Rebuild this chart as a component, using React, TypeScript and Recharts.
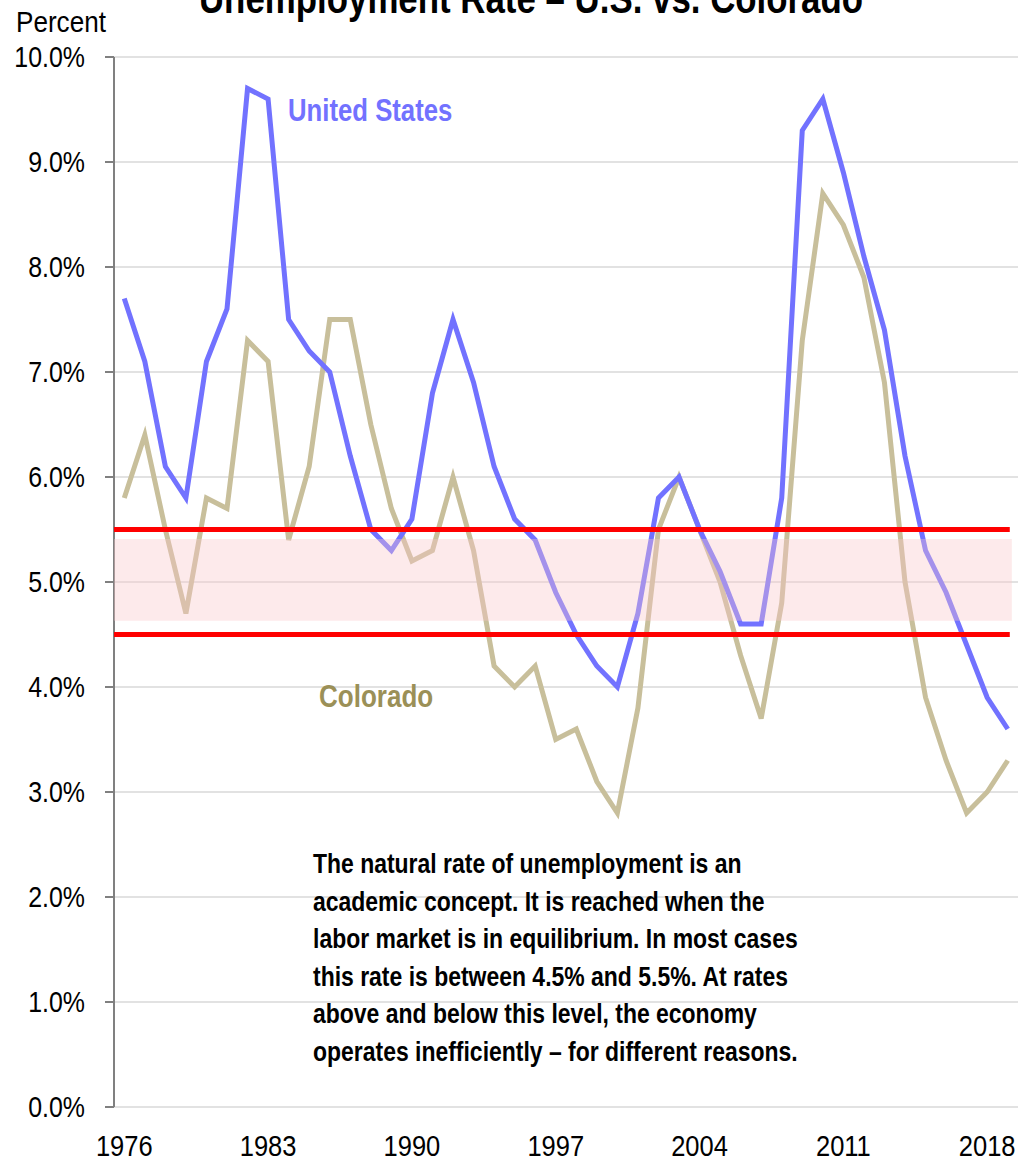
import { LineChart, Line, XAxis, YAxis, CartesianGrid, ReferenceLine, ReferenceArea } from 'recharts';

const years = [
  1976, 1977, 1978, 1979, 1980, 1981, 1982, 1983, 1984, 1985, 1986,
  1987, 1988, 1989, 1990, 1991, 1992, 1993, 1994, 1995, 1996, 1997,
  1998, 1999, 2000, 2001, 2002, 2003, 2004, 2005, 2006, 2007, 2008,
  2009, 2010, 2011, 2012, 2013, 2014, 2015, 2016, 2017, 2018, 2019,
];

const unitedStates = [
  7.7, 7.1, 6.1, 5.8, 7.1, 7.6, 9.7, 9.6, 7.5, 7.2, 7.0,
  6.2, 5.5, 5.3, 5.6, 6.8, 7.5, 6.9, 6.1, 5.6, 5.4, 4.9,
  4.5, 4.2, 4.0, 4.7, 5.8, 6.0, 5.5, 5.1, 4.6, 4.6, 5.8,
  9.3, 9.6, 8.9, 8.1, 7.4, 6.2, 5.3, 4.9, 4.4, 3.9, 3.6,
];

const colorado = [
  5.8, 6.4, 5.5, 4.7, 5.8, 5.7, 7.3, 7.1, 5.4, 6.1, 7.5,
  7.5, 6.5, 5.7, 5.2, 5.3, 6.0, 5.3, 4.2, 4.0, 4.2, 3.5,
  3.6, 3.1, 2.8, 3.8, 5.5, 6.0, 5.5, 5.0, 4.3, 3.7, 4.8,
  7.3, 8.7, 8.4, 7.9, 6.9, 5.0, 3.9, 3.3, 2.8, 3.0, 3.3,
];

const yearLabels = [1976, 1983, 1990, 1997, 2004, 2011, 2018];
const percentTicks = [0, 1, 2, 3, 4, 5, 6, 7, 8, 9, 10];

// natural rate band
const naturalLow = 4.5;
const naturalHigh = 5.5;

const note = [
  'The natural rate of unemployment is an',
  'academic concept. It is reached when the',
  'labor market is in equilibrium. In most cases',
  'this rate is between 4.5% and 5.5%. At rates',
  'above and below this level, the economy',
  'operates inefficiently – for different reasons.',
];

const data = years.map((year, i) => ({
  year,
  us: unitedStates[i],
  co: colorado[i],
}));

// tick marks sit between the years, like category boundaries
const boundaryTicks = Array.from({ length: years.length + 1 }, (_, i) => years[0] - 0.5 + i);

const FONT = '"Liberation Sans", Arial, sans-serif';
const BLUE = '#7272ff';
const TAN = '#c8bf9b';

// no narrow font available, so squeeze Liberation Sans horizontally
function NarrowText({ x, y, sx = 0.83, anchor = 'start', dy, size, bold, fill = '#000', children }: any) {
  return (
    <text
      transform={`translate(${x},${y}) scale(${sx},1)`}
      x={0}
      y={0}
      dy={dy}
      textAnchor={anchor}
      fontSize={size}
      fontWeight={bold ? 'bold' : 'normal'}
      fontFamily={FONT}
      fill={fill}
    >
      {children}
    </text>
  );
}

function YearTick(props: any) {
  const { x, y, payload } = props;
  return (
    <NarrowText x={x} y={y} sx={0.85} anchor="middle" dy="0.71em" size={30}>
      {payload.value}
    </NarrowText>
  );
}

function PercentTick(props: any) {
  const { x, y, payload } = props;
  return (
    <NarrowText x={x} y={y} sx={0.86} anchor="end" dy="0.355em" size={29}>
      {payload.value.toFixed(1) + '%'}
    </NarrowText>
  );
}

export default function App() {
  const xDomain: [number, number] = [years[0] - 0.5, years[years.length - 1] + 0.5];
  const lineEnd = years[years.length - 1] + 0.1;

  return (
    <div style={{ position: 'relative', width: 1022, height: 1161, background: '#fff', fontFamily: FONT }}>
      <style>{'body{margin:0}'}</style>
      <LineChart
        width={1022}
        height={1161}
        data={data}
        margin={{ top: 57, right: 4, bottom: 0, left: 0 }}
      >
        <CartesianGrid vertical={false} stroke="#d9d9d9" strokeWidth={1.5} />
        <XAxis
          xAxisId="marks"
          dataKey="year"
          type="number"
          domain={xDomain}
          ticks={boundaryTicks}
          tick={false}
          height={0}
          tickSize={9}
          tickLine={{ stroke: '#808080', strokeWidth: 2 }}
          axisLine={{ stroke: '#808080', strokeWidth: 2 }}
        />
        <XAxis
          dataKey="year"
          type="number"
          domain={xDomain}
          ticks={yearLabels}
          height={54}
          tickLine={false}
          axisLine={false}
          tickMargin={22}
          tick={YearTick}
        />
        <YAxis
          width={114}
          domain={[0, 10]}
          ticks={percentTicks}
          tickSize={9}
          tickMargin={20}
          tickLine={{ stroke: '#808080', strokeWidth: 2 }}
          axisLine={{ stroke: '#808080', strokeWidth: 2 }}
          tick={PercentTick}
        />
        <Line
          dataKey="co"
          stroke={TAN}
          strokeWidth={5}
          dot={false}
          isAnimationActive={false}
        />
        <Line
          dataKey="us"
          stroke={BLUE}
          strokeWidth={5}
          dot={false}
          isAnimationActive={false}
        />
        <ReferenceArea
          x1={xDomain[0]}
          x2={lineEnd + 0.1}
          y1={4.63}
          y2={5.41}
          fill="#f9c5c8"
          fillOpacity={0.37}
          stroke="none"
          zIndex={1000}
        />
        <ReferenceLine
          segment={[{ x: xDomain[0], y: naturalHigh }, { x: lineEnd, y: naturalHigh }]}
          stroke="#ff0000"
          strokeWidth={5}
          zIndex={1001}
        />
        <ReferenceLine
          segment={[{ x: xDomain[0], y: naturalLow }, { x: lineEnd, y: naturalLow }]}
          stroke="#ff0000"
          strokeWidth={5}
          zIndex={1001}
        />
      </LineChart>

      <svg
        width={1022}
        height={1161}
        style={{ position: 'absolute', left: 0, top: 0, pointerEvents: 'none' }}
      >
        <NarrowText x={531} y={13} anchor="middle" size={42} bold>
          Unemployment Rate – U.S. vs. Colorado
        </NarrowText>
        <NarrowText x={16} y={32} sx={0.9} size={29}>Percent</NarrowText>
        <NarrowText x={288} y={121} size={31} bold fill={BLUE}>United States</NarrowText>
        <NarrowText x={319} y={707} size={31} sx={0.84} bold fill="#9b9057">Colorado</NarrowText>
        {note.map((line, i) => (
          <NarrowText key={i} x={313} y={873 + i * 37.5} sx={0.82} size={28} bold>
            {line}
          </NarrowText>
        ))}
      </svg>
    </div>
  );
}
